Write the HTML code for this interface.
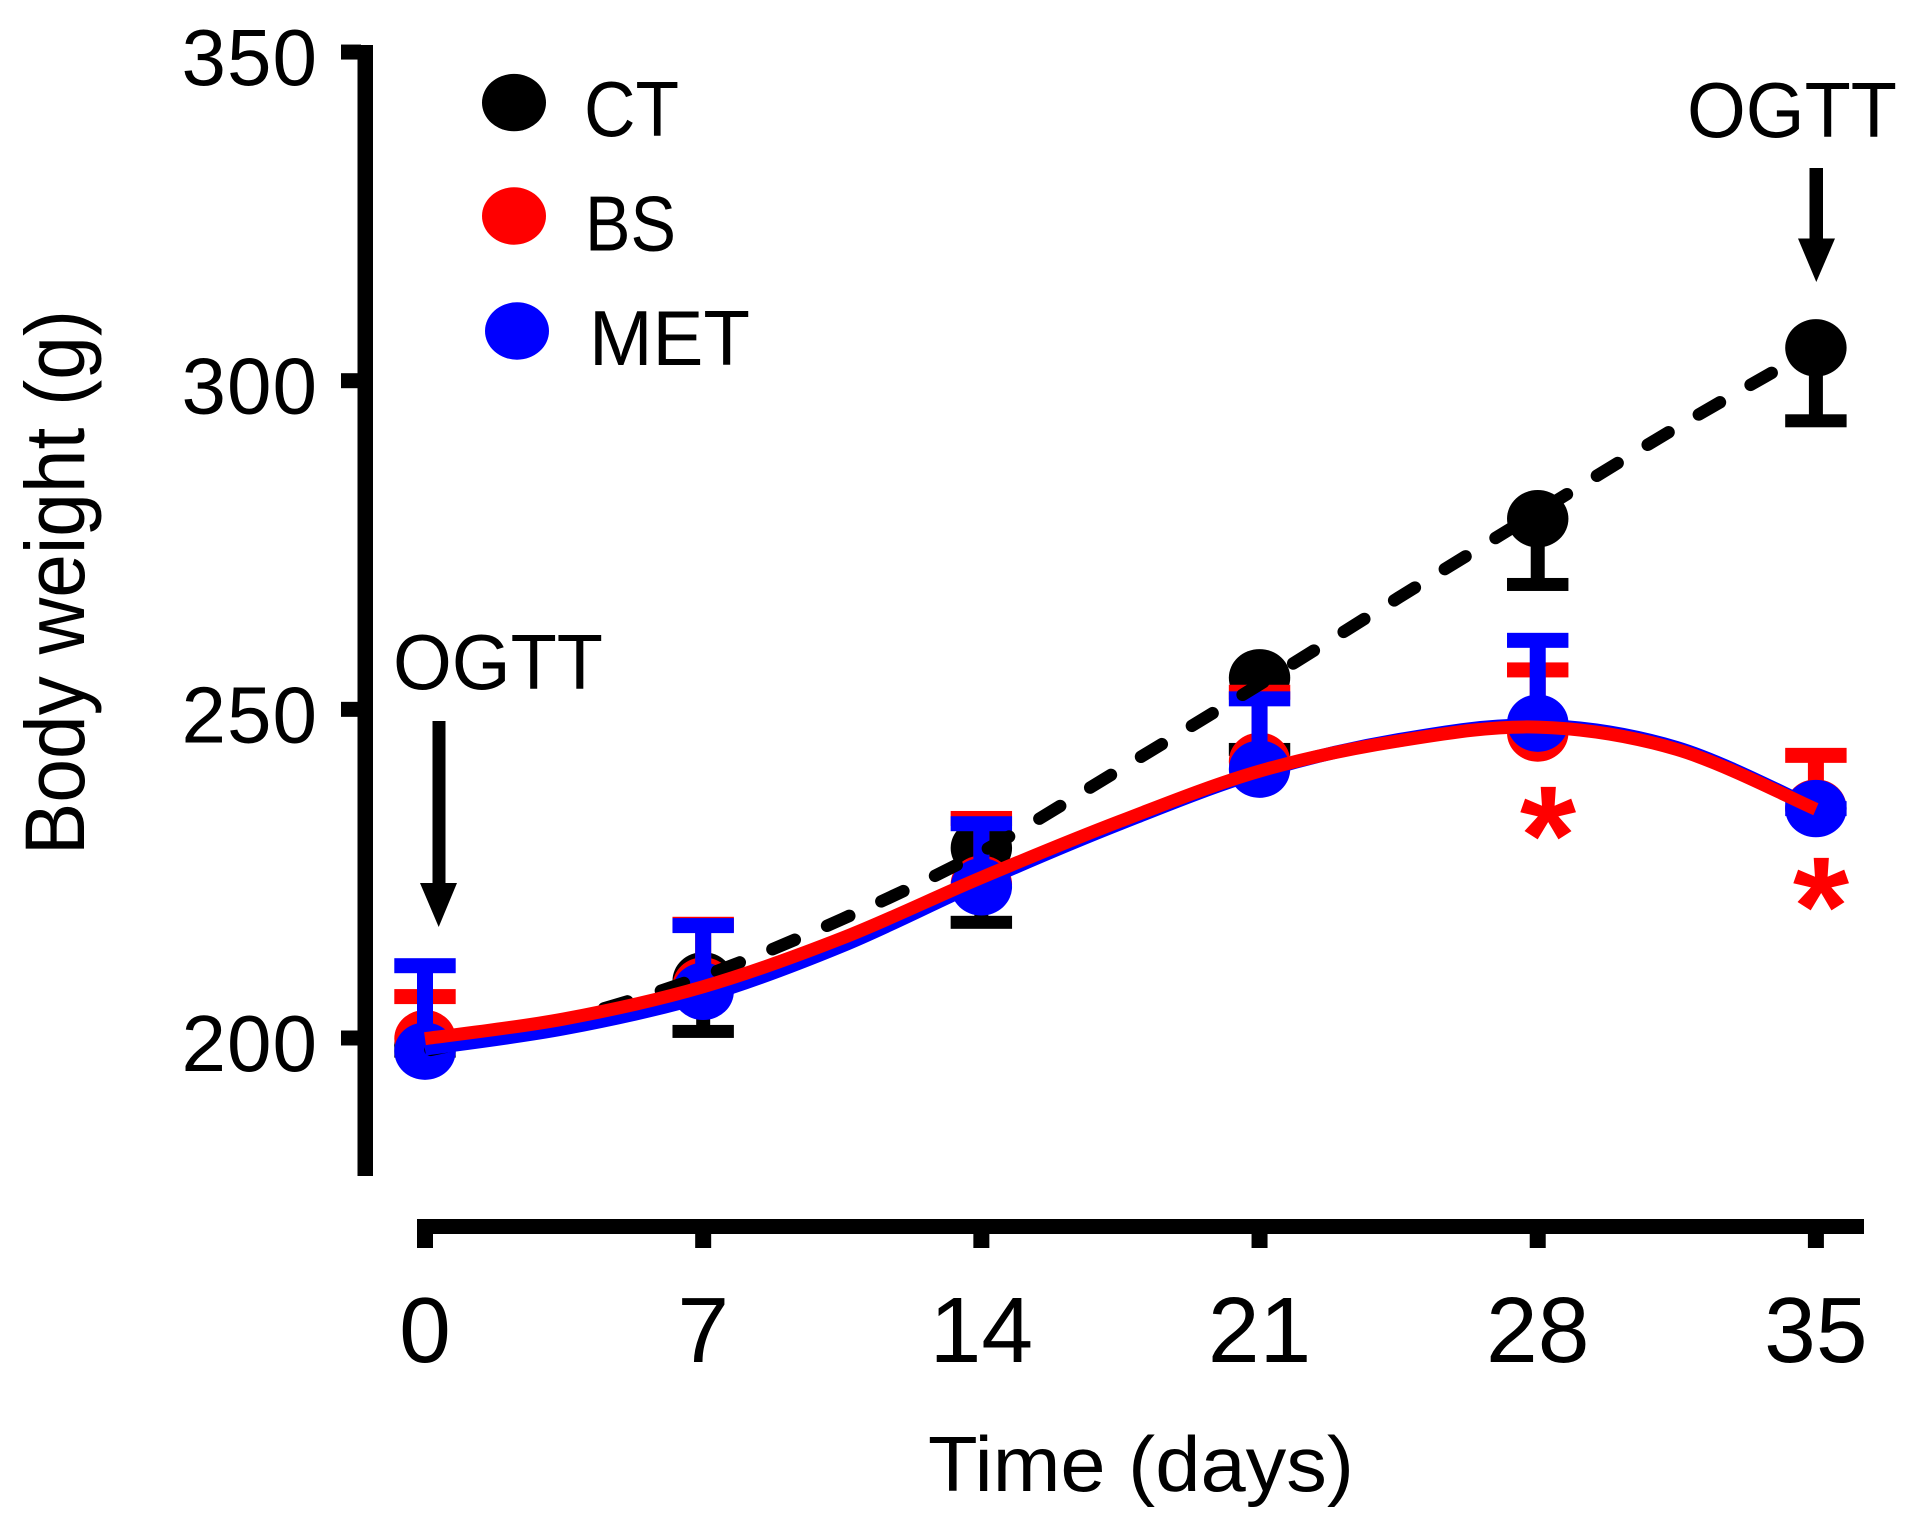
<!DOCTYPE html>
<html>
<head>
<meta charset="utf-8">
<title>Body weight over time</title>
<style>
html,body{margin:0;padding:0;background:#fff;}
svg{display:block;}
text{font-family:"Liberation Sans",sans-serif;fill:#000;}
</style>
</head>
<body>
<svg id="chart" width="1920" height="1532" viewBox="0 0 1920 1532" xmlns="http://www.w3.org/2000/svg">
  <rect x="0" y="0" width="1920" height="1532" fill="#fff"/>
  <g id="axes"></g>
  <g id="marks"></g>
  <text transform="translate(84,855) rotate(-90)" font-size="84" textLength="545" lengthAdjust="spacingAndGlyphs">Body weight (g)</text>
  <text x="928" y="1491" font-size="78" textLength="426" lengthAdjust="spacingAndGlyphs">Time (days)</text>

  <g>
    <ellipse cx="514" cy="102.6" rx="32" ry="28.7" fill="#000"/>
    <text x="584" y="136" font-size="78" textLength="95" lengthAdjust="spacingAndGlyphs">CT</text>
    <ellipse cx="514" cy="216" rx="32" ry="28.7" fill="#f00"/>
    <text x="585" y="250.5" font-size="78" textLength="91" lengthAdjust="spacingAndGlyphs">BS</text>
    <ellipse cx="517" cy="331" rx="32" ry="28.7" fill="#00f"/>
    <text x="589" y="365" font-size="78" textLength="161" lengthAdjust="spacingAndGlyphs">MET</text>
  </g>

  <g>
    <text x="393" y="689" font-size="78" textLength="210" lengthAdjust="spacingAndGlyphs">OGTT</text>
    <rect x="432.5" y="721" width="13" height="165" fill="#000"/>
    <polygon points="420,883 457,883 438.7,927" fill="#000"/>
  </g>
  <g>
    <text x="1687" y="137" font-size="78" textLength="210" lengthAdjust="spacingAndGlyphs">OGTT</text>
    <rect x="1809.5" y="168" width="13.5" height="73" fill="#000"/>
    <polygon points="1798,238.5 1835,238.5 1816.3,282" fill="#000"/>
  </g>

  <text transform="translate(1548,884) scale(0.85,0.83)" font-size="170" font-weight="bold" text-anchor="middle" style="fill:#f00">*</text>
  <text transform="translate(1821,955) scale(0.85,0.83)" font-size="170" font-weight="bold" text-anchor="middle" style="fill:#f00">*</text>
</svg>
<script>
// ---- data ----
var days = [0, 7, 14, 21, 28, 35];
var yTicks = [200, 250, 300, 350];
var xTickLabels = ["0", "7", "14", "21", "28", "35"];

var ctMean  = [199, 208.7, 228.9, 254.8, 279, 305];
var bsMean  = [199.9, 207.9, 223.4, 242.1, 246.4, 235];
var metMean = [198, 207.1, 223, 240.9, 247.9, 234.9];

var ctLower  = [198, 201, 217.6, 243.9, 269, 293.9];
var bsUpper  = [206.3, 217.3, 233.4, 252.6, 256, 243];
var metUpper = [211, 217.1, 232.6, 251.6, 260.5, 234.9];

var fitDays = [0, 3.5, 7, 10.5, 14, 17.5, 21, 24.5, 28, 31.5, 35];
var ctFit  = [198, 202.8, 209.4, 218.1, 228.3, 240.9, 253.8, 267, 280, 292.9, 305];
var bsFit  = [199.9, 202.9, 207.8, 215.2, 224.4, 233, 240.6, 245.2, 247.3, 243.9, 234.8];
var metFit = [198.3, 201.4, 206.3, 214, 223.7, 232.6, 240.4, 245.4, 247.6, 244.2, 235];

// ---- axis functions ----
function xScale(d) { return 425 + d * 39.74; }
function yScale(v) { return 1038 - (v - 200) * 6.573; }

var NS = "http://www.w3.org/2000/svg";
var axes = document.getElementById("axes");
var marks = document.getElementById("marks");

function make(tag, parent, attrs) {
  var el = document.createElementNS(NS, tag);
  for (var k in attrs) el.setAttribute(k, attrs[k]);
  parent.appendChild(el);
  return el;
}

function curvePath(xs, ys) {
  var pts = xs.map(function (d, i) { return [xScale(d), yScale(ys[i])]; });
  var s = "M" + pts[0][0] + " " + pts[0][1];
  for (var i = 0; i < pts.length - 1; i++) {
    var p0 = pts[Math.max(i - 1, 0)], p1 = pts[i], p2 = pts[i + 1], p3 = pts[Math.min(i + 2, pts.length - 1)];
    s += " C" + (p1[0] + (p2[0] - p0[0]) / 6) + " " + (p1[1] + (p2[1] - p0[1]) / 6) + " " +
         (p2[0] - (p3[0] - p1[0]) / 6) + " " + (p2[1] - (p3[1] - p1[1]) / 6) + " " + p2[0] + " " + p2[1];
  }
  return s;
}

// ---- axes ----
var yLine = make("rect", axes, { x: 357.5, y: 45, width: 15.5, height: 1131, fill: "#000" });



yTicks.forEach(function (v) {
  var t = make("rect", axes, { x: 341, y: yScale(v) - 7.5, width: 20, height: 15, fill: "#000" });
  
  
  var l = make("text", axes, { x: 318, y: yScale(v) + 33, "font-size": 80, "text-anchor": "end", "letter-spacing": "1" });
  
  
  l.textContent = String(v);
});

var xLine = make("rect", axes, { x: 417, y: 1219, width: 1447, height: 15, fill: "#000" });



days.forEach(function (d, i) {
  var t = make("rect", axes, { x: xScale(d) - 8, y: 1225, width: 16, height: 23, fill: "#000" });
  
  
  var l = make("text", axes, { x: xScale(d), y: 1362, "font-size": 93, "text-anchor": "middle" });
  
  
  l.textContent = xTickLabels[i];
});

// ---- error bars and markers ----
function drawSeries(key, color, means, ends, capH, stemW) {
  days.forEach(function (d, i) {
    var cx = xScale(d), my = yScale(means[i]), ey = yScale(ends[i]);
    var stem = make("rect", marks, { x: cx - stemW / 2, y: Math.min(my, ey), width: stemW, height: Math.abs(my - ey), fill: color });
    
    
    var cap = make("rect", marks, { x: cx - 30.7, y: ey - capH / 2, width: 61.4, height: capH, fill: color });
    
    
    var dot = make("ellipse", marks, { cx: cx, cy: my, rx: 30.7, ry: 28.7, fill: color });
    
    
    dot.setAttribute('class', key);
  });
}
drawSeries("ct", "#000", ctMean, ctLower, 13, 14);
drawSeries("bs", "#f00", bsMean, bsUpper, 15, 16);
drawSeries("met", "#00f", metMean, metUpper, 15, 16);

// ---- fitted curves ----
var ctLine = make("path", marks, { d: curvePath(fitDays, ctFit), fill: "none", stroke: "#000", "stroke-width": 12.5, "stroke-linecap": "round", "stroke-dasharray": "24.3 35.2" });


var ctLen = ctLine.getTotalLength();
ctLine.setAttribute("stroke-dashoffset", String((((75.15 - ctLen) % 59.5) + 59.5) % 59.5));

var metLine = make("path", marks, { d: curvePath(fitDays, metFit), fill: "none", stroke: "#00f", "stroke-width": 13 });



var bsLine = make("path", marks, { d: curvePath(fitDays, bsFit), fill: "none", stroke: "#f00", "stroke-width": 13 });


</script>
</body>
</html>
